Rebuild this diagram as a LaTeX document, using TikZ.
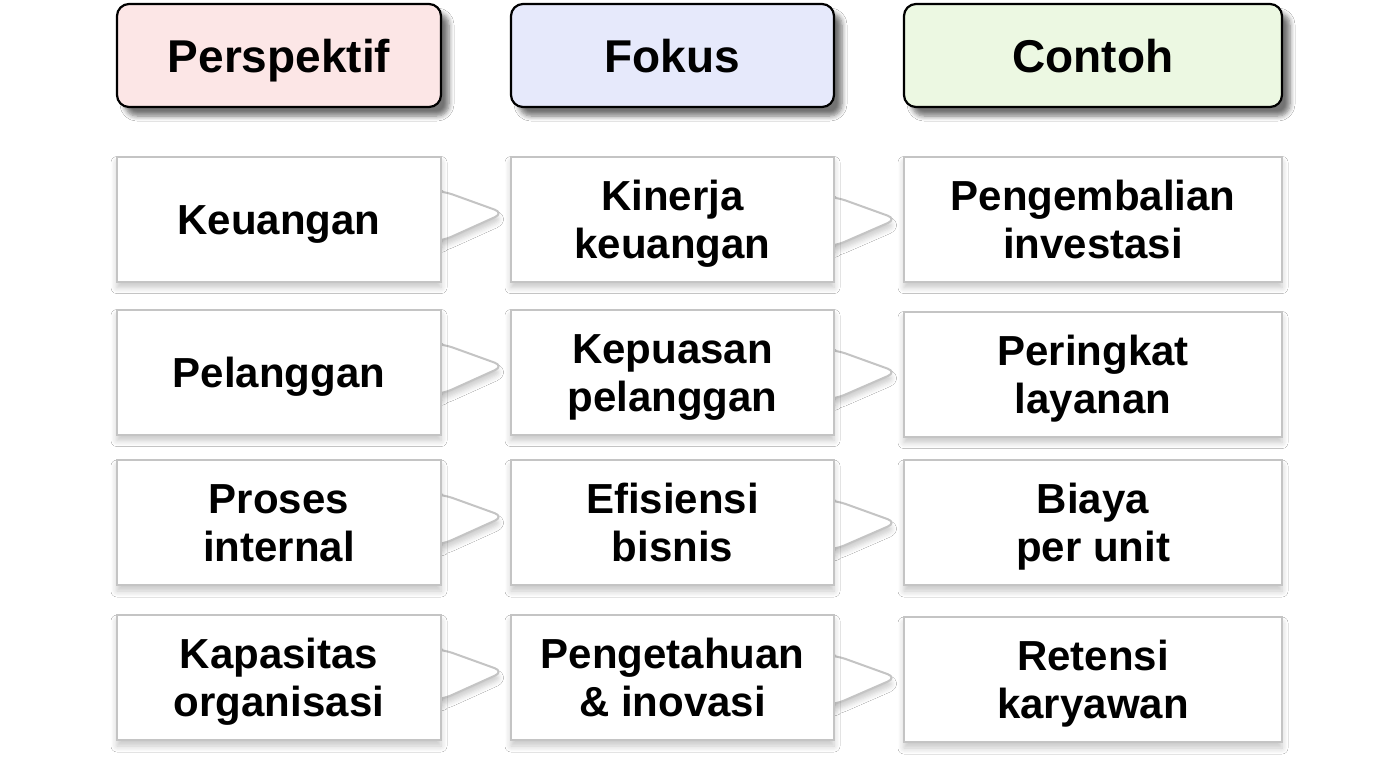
\documentclass[tikz,border=0pt]{standalone}
\usepackage{fontspec}
\setmainfont{Liberation Sans}
\usetikzlibrary{shadows.blur}
\definecolor{hpink}{HTML}{FCE6E6}
\definecolor{hblue}{HTML}{E6E9FB}
\definecolor{hgreen}{HTML}{ECF8E2}
\definecolor{boxgray}{HTML}{C4C4C4}
\newcommand\cln[1]{\raisebox{0pt}[15.2pt][0pt]{#1}}
\newcommand\hln[1]{\raisebox{0pt}[16.6pt][0pt]{#1}}
\tikzset{
  lbl/.style={font=\fontsize{21}{24}\selectfont\bfseries, align=center, inner sep=0pt, outer sep=0pt},
  header/.style={lbl, font=\fontsize{23}{26}\selectfont\bfseries, draw=black, line width=1.1pt, rounded corners=6pt, minimum height=51.5pt,
     blur shadow={shadow xshift=4pt, shadow yshift=-4.5pt, shadow blur radius=2.5pt, shadow blur steps=6, shadow opacity=55}},
  cell/.style={lbl, draw=boxgray, line width=1pt, fill=white, minimum height=62.5pt,
     blur shadow={shadow xshift=0pt, shadow yshift=-3pt, shadow blur radius=3pt, shadow blur steps=6, shadow opacity=22}},
  colA/.style={minimum width=162pt},
  colB/.style={minimum width=161.5pt},
  colC/.style={minimum width=189pt},
  tab/.style={draw=boxgray, line width=1pt, fill=white, rounded corners=5pt,
     blur shadow={shadow xshift=0pt, shadow yshift=-3pt, shadow blur radius=2.5pt, shadow blur steps=5, shadow opacity=20}},
}
\begin{document}
\begin{tikzpicture}[x=0.5pt, y=-0.5pt]
\useasboundingbox[fill=white] (0,0) rectangle (1376,768);
% headers
\node[header, colA, fill=hpink] (h1) at (279,55.5) {\raisebox{-1.5pt}{\hln{Perspektif}}};
\node[header, colB, fill=hblue] (h2) at (672.5,55.5) {\raisebox{-1.5pt}{\hln{Fokus}}};
\node[header, colC, fill=hgreen] (h3) at (1093,55.5) {\raisebox{-1.5pt}{\hln{Contoh}}};
% connector anchor points
\foreach \r/\y in {1/219,2/372,3/522.5,4/677.5}{
  \coordinate (ca\r) at (441,\y);
  \coordinate (cb\r) at (511,\y);
  \coordinate (cc\r) at (834,\y);
  \coordinate (cd\r) at (904,\y);
}
% connectors (behind the cells, whose edges close them)
\foreach \r in {1,2,3,4}{
  \path[tab] ([xshift=-4pt,yshift=14pt]ca\r) -- ([xshift=1pt,yshift=14pt]ca\r) -- ([xshift=-3.5pt,yshift=3pt]cb\r) -- ([xshift=0.5pt,yshift=-11pt]ca\r) -- ([xshift=-4pt,yshift=-11pt]ca\r) -- cycle;
  \path[tab] ([xshift=-4pt,yshift=11pt]cc\r) -- ([xshift=1pt,yshift=11pt]cc\r) -- ([xshift=-3.5pt,yshift=0pt]cd\r) -- ([xshift=0.5pt,yshift=-13.5pt]cc\r) -- ([xshift=-4pt,yshift=-13.5pt]cc\r) -- cycle;
}
% row cells
\node[cell, colA] (a1) at (279,219) {\cln{Keuangan}};
\node[cell, colB] (b1) at (672.5,219) {\cln{Kinerja}\\\cln{keuangan}};
\node[cell, colC] (c1) at (1093,219) {\cln{Pengembalian}\\\cln{investasi}};
\node[cell, colA] (a2) at (279,372) {\cln{Pelanggan}};
\node[cell, colB] (b2) at (672.5,372) {\cln{Kepuasan}\\\cln{pelanggan}};
\node[cell, colC] (c2) at (1093,374) {\cln{Peringkat}\\\cln{layanan}};
\node[cell, colA] (a3) at (279,522.5) {\cln{Proses}\\\cln{internal}};
\node[cell, colB] (b3) at (672.5,522.5) {\cln{Efisiensi}\\\cln{bisnis}};
\node[cell, colC] (c3) at (1093,522.5) {\cln{Biaya}\\\cln{per unit}};
\node[cell, colA] (a4) at (279,677.5) {\cln{Kapasitas}\\\cln{organisasi}};
\node[cell, colB] (b4) at (672.5,677.5) {\cln{Pengetahuan}\\\cln{\& inovasi}};
\node[cell, colC] (c4) at (1093,679.5) {\cln{Retensi}\\\cln{karyawan}};
\end{tikzpicture}
\end{document}
